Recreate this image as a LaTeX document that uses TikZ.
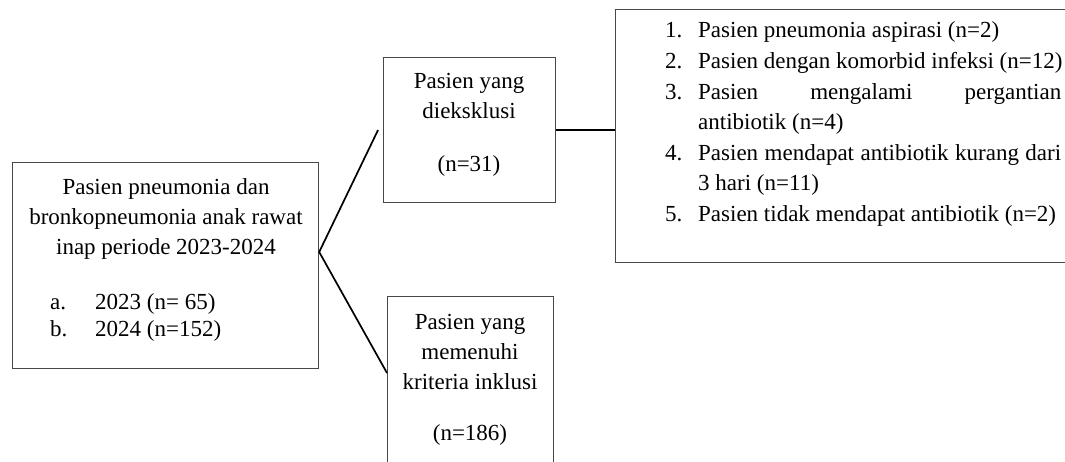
\documentclass[tikz,border=0pt]{standalone}
\usepackage{fontspec}
\setmainfont{Liberation Serif}
\usetikzlibrary{calc}
\begin{document}
\begin{tikzpicture}[x=1pt,y=-1pt,
  box/.style={draw=black!72, line width=1.2pt, inner sep=0pt, anchor=north west},
  txt/.style={inner sep=0pt, anchor=base, font=\fontsize{23}{30}\selectfont},
  txtl/.style={txt, anchor=base west},
  link/.style={draw=black, line width=1.7pt}]
\useasboundingbox (0,0) rectangle (1065,462);
\fill[white] (0,0) rectangle (1065,462);
\clip (0,0) rectangle (1065,462);

% boxes
\node[box, minimum width=306pt, minimum height=206pt] (src) at (12,162) {};
\node[box, minimum width=172pt, minimum height=145pt] (excl) at (383,57) {};
\node[box, minimum width=166pt, minimum height=200pt] (incl) at (387,296) {};
\node[box, minimum width=470pt, minimum height=253pt] (rbox) at (615,9) {};

% source text
\node[txt] (s1) at (166,195) {Pasien pneumonia dan};
\node[txt] (s2) at (166,225) {bronkopneumonia anak rawat};
\node[txt] (s3) at (166,255) {inap periode 2023-2024};
\node[txtl] (s4) at (50,309) {\makebox[45pt][l]{a.}2023 (n= 65)};
\node[txtl] (s5) at (50,336) {\makebox[45pt][l]{b.}2024 (n=152)};

% excluded text
\node[txt] (e1) at (469,89) {Pasien yang};
\node[txt] (e2) at (469,119) {dieksklusi};
\node[txt] (e3) at (469,172) {(n=31)};

% included text
\node[txt] (i1) at (470,329) {Pasien yang};
\node[txt] (i2) at (470,359) {memenuhi};
\node[txt] (i3) at (470,389) {kriteria inklusi};
\node[txt] (i4) at (470,440) {(n=186)};

% exclusion reasons
\node[txtl] (r1) at (665,38) {\makebox[33pt][l]{1.}Pasien pneumonia aspirasi (n=2)};
\node[txtl] (r2) at (665,68.6) {\makebox[33pt][l]{2.}Pasien dengan komorbid infeksi (n=12)};
\node[txtl] (r3) at (665,99.2) {\makebox[33pt][l]{3.}\makebox[363pt][s]{Pasien mengalami pergantian}};
\node[txtl] (r3b) at (698,129.8) {antibiotik (n=4)};
\node[txtl] (r4) at (665,160.4) {\makebox[33pt][l]{4.}\makebox[363pt][s]{Pasien mendapat antibiotik kurang dari}};
\node[txtl] (r4b) at (698,191) {3 hari (n=11)};
\node[txtl] (r5) at (665,221.6) {\makebox[33pt][l]{5.}Pasien tidak mendapat antibiotik (n=2)};

% connectors
\coordinate (split) at ($(src.north east)+(0,90)$);
\coordinate (exclin) at ($(excl.west)+(-5,0)$);
\coordinate (inclin) at ($(incl.north west)+(0,77)$);
\draw[link] (exclin) -- (split) -- (inclin);
\draw[link] (excl.east) -- (excl.east -| rbox.west);
\end{tikzpicture}
\end{document}
